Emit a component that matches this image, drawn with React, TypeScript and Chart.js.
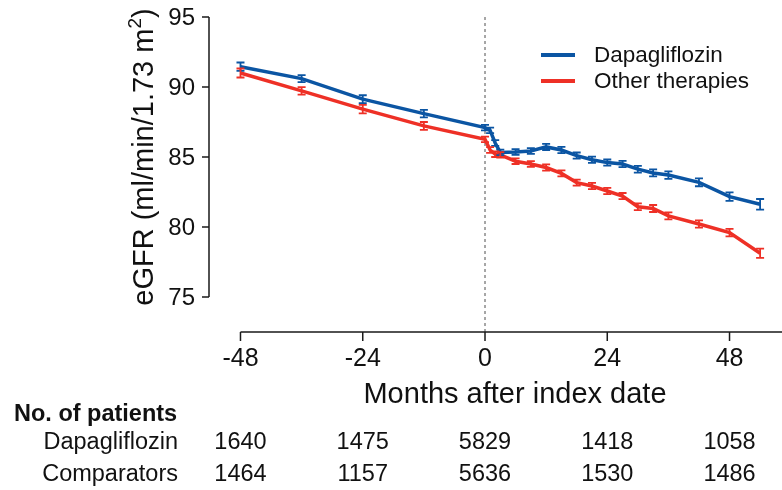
import React, { useEffect, useRef } from "react";
import { Chart, registerables } from "chart.js";

Chart.register(...registerables);

const months = [-48, -36, -24, -12, 0, 1, 2, 3, 6, 9, 12, 15, 18, 21, 24, 27, 30, 33, 36, 42, 48, 54];
const dapaMean = [91.45, 90.6, 89.13, 88.1, 87.1, 86.9, 86.0, 85.33, 85.36, 85.43, 85.72, 85.5, 85.1, 84.8, 84.6, 84.5, 84.13, 83.86, 83.71, 83.19, 82.17, 81.62];
const dapaErr = [0.3, 0.25, 0.28, 0.27, 0.2, 0.2, 0.2, 0.2, 0.2, 0.2, 0.22, 0.22, 0.22, 0.22, 0.22, 0.22, 0.24, 0.25, 0.27, 0.28, 0.3, 0.38];
const otherMean = [91.0, 89.72, 88.42, 87.22, 86.26, 85.5, 85.2, 85.15, 84.7, 84.5, 84.25, 83.83, 83.17, 82.93, 82.57, 82.21, 81.45, 81.32, 80.79, 80.21, 79.6, 78.12];
const otherErr = [0.32, 0.27, 0.3, 0.28, 0.2, 0.2, 0.2, 0.2, 0.2, 0.2, 0.22, 0.22, 0.22, 0.22, 0.22, 0.22, 0.24, 0.25, 0.25, 0.26, 0.27, 0.33];

const xTicks = [-48, -24, 0, 24, 48];
const yTicks = [75, 80, 85, 90, 95];
const tableTitle = "No. of patients";
const tableRows = ["Dapagliflozin", "Comparators"];
const dapaN = [1640, 1475, 5829, 1418, 1058];
const compN = [1464, 1157, 5636, 1530, 1486];
const legendLabels = ["Dapagliflozin", "Other therapies"];
const xTitle = "Months after index date";

const BLUE = "#0b55a3";
const RED = "#ee3026";
const FONT = "'Liberation Sans', Arial, sans-serif";

function font(size: number, bold = false) {
  return `${bold ? "bold " : ""}${size}px ${FONT}`;
}

const overlay = {
  id: "overlay",
  beforeDatasetsDraw(chart: any) {
    const { ctx, scales, chartArea } = chart;
    const x = scales.x, y = scales.y;
    ctx.save();
    ctx.strokeStyle = "#8a8a8a";
    ctx.lineWidth = 1.5;
    ctx.setLineDash([3, 3]);
    const x0 = x.getPixelForValue(0);
    ctx.beginPath();
    ctx.moveTo(x0, y.getPixelForValue(95));
    ctx.lineTo(x0, chartArea.bottom);
    ctx.stroke();
    ctx.restore();
  },
  afterDatasetsDraw(chart: any) {
    const { ctx, scales } = chart;
    const x = scales.x, y = scales.y;
    const sets = [
      { mean: dapaMean, err: dapaErr, color: BLUE },
      { mean: otherMean, err: otherErr, color: RED },
    ];
    ctx.save();
    ctx.lineWidth = 1.8;
    for (const s of sets) {
      ctx.strokeStyle = s.color;
      months.forEach((m, i) => {
        const px = x.getPixelForValue(m);
        const top = y.getPixelForValue(s.mean[i] + s.err[i]);
        const bot = y.getPixelForValue(s.mean[i] - s.err[i]);
        ctx.beginPath();
        ctx.moveTo(px, top);
        ctx.lineTo(px, bot);
        ctx.moveTo(px - 4, top);
        ctx.lineTo(px + 4, top);
        ctx.moveTo(px - 4, bot);
        ctx.lineTo(px + 4, bot);
        ctx.stroke();
      });
    }
    ctx.restore();
  },
  afterDraw(chart: any) {
    const { ctx, scales, chartArea } = chart;
    const x = scales.x, y = scales.y;
    ctx.save();
    ctx.strokeStyle = "#1a1a1a";
    ctx.lineWidth = 1.5;
    ctx.setLineDash([]);
    // y axis
    const ax = chartArea.left;
    ctx.beginPath();
    ctx.moveTo(ax, y.getPixelForValue(95));
    ctx.lineTo(ax, y.getPixelForValue(75));
    for (const t of yTicks) {
      const py = y.getPixelForValue(t);
      ctx.moveTo(ax - 7, py);
      ctx.lineTo(ax, py);
    }
    ctx.stroke();
    // x axis
    const ay = chartArea.bottom;
    ctx.beginPath();
    ctx.moveTo(x.getPixelForValue(-48), ay);
    ctx.lineTo(chartArea.right, ay);
    for (const t of xTicks) {
      const px = x.getPixelForValue(t);
      ctx.moveTo(px, ay);
      ctx.lineTo(px, ay + 9);
    }
    ctx.stroke();

    ctx.fillStyle = "#111";
    // y tick labels
    ctx.font = font(24);
    ctx.textAlign = "right";
    ctx.textBaseline = "middle";
    for (const t of yTicks) ctx.fillText(String(t), ax - 14, y.getPixelForValue(t) + 1);
    // x tick labels
    ctx.textAlign = "center";
    ctx.font = font(25);
    for (const t of xTicks) ctx.fillText(String(t), x.getPixelForValue(t), ay + 27);

    // x title
    ctx.font = font(29);
    ctx.fillText(xTitle, 515, 395);

    // y title with superscript
    ctx.save();
    ctx.translate(143, 157);
    ctx.rotate(-Math.PI / 2);
    const main = "eGFR (ml/min/1.73 m";
    const sup = "2";
    const tail = ")";
    ctx.font = font(29);
    const wMain = ctx.measureText(main).width;
    const wTail = ctx.measureText(tail).width;
    ctx.font = font(19);
    const wSup = ctx.measureText(sup).width;
    const total = wMain + wSup + wTail;
    let cx = -total / 2;
    ctx.textAlign = "left";
    ctx.textBaseline = "alphabetic";
    ctx.font = font(29);
    ctx.fillText(main, cx, 10);
    cx += wMain;
    ctx.font = font(19);
    ctx.fillText(sup, cx, -2);
    cx += wSup;
    ctx.font = font(29);
    ctx.fillText(tail, cx, 10);
    ctx.restore();

    // legend
    const legendColors = [BLUE, RED];
    legendLabels.forEach((lab, i) => {
      const ly = 55 + i * 26;
      ctx.strokeStyle = legendColors[i];
      ctx.lineWidth = 4;
      ctx.beginPath();
      ctx.moveTo(541, ly);
      ctx.lineTo(575, ly);
      ctx.stroke();
      ctx.fillStyle = "#111";
      ctx.font = font(22.5);
      ctx.textAlign = "left";
      ctx.textBaseline = "middle";
      ctx.fillText(lab, 594, ly + 1);
    });

    // table
    ctx.fillStyle = "#111";
    ctx.textBaseline = "alphabetic";
    ctx.textAlign = "left";
    ctx.font = font(23.5, true);
    ctx.fillText(tableTitle, 14, 421);
    const rows = [dapaN, compN];
    ctx.font = font(23.5);
    tableRows.forEach((lab, r) => {
      const by = 449 + r * 32;
      ctx.textAlign = "right";
      ctx.fillText(lab, 178, by);
      ctx.textAlign = "center";
      rows[r].forEach((n, i) => ctx.fillText(String(n), x.getPixelForValue(xTicks[i]), by));
    });
    ctx.restore();
  },
};

export default function App() {
  const ref = useRef<HTMLCanvasElement | null>(null);
  useEffect(() => {
    if (!ref.current) return;
    const chart = new Chart(ref.current, {
      type: "line",
      data: {
        datasets: [
          {
            label: legendLabels[0],
            data: months.map((m, i) => ({ x: m, y: dapaMean[i] })),
            borderColor: BLUE,
            borderWidth: 3.5,
            pointRadius: 0,
            tension: 0,
            clip: false as any,
          },
          {
            label: legendLabels[1],
            data: months.map((m, i) => ({ x: m, y: otherMean[i] })),
            borderColor: RED,
            borderWidth: 3.5,
            pointRadius: 0,
            tension: 0,
            clip: false as any,
          },
        ],
      },
      options: {
        responsive: false,
        animation: false,
        devicePixelRatio: 1,
        layout: { padding: { left: 209, right: 0, top: 17, bottom: 158 } },
        scales: {
          x: { type: "linear", min: -54.18, max: 58.3, display: false },
          y: { type: "linear", min: 72.5, max: 95, display: false },
        },
        plugins: { legend: { display: false }, tooltip: { enabled: false } },
      },
      plugins: [overlay],
    });
    return () => chart.destroy();
  }, []);
  return (
    <div style={{ position: "fixed", left: 0, top: 0, width: 782, height: 490, background: "#fff" }}>
      <canvas ref={ref} width={782} height={490} />
    </div>
  );
}
